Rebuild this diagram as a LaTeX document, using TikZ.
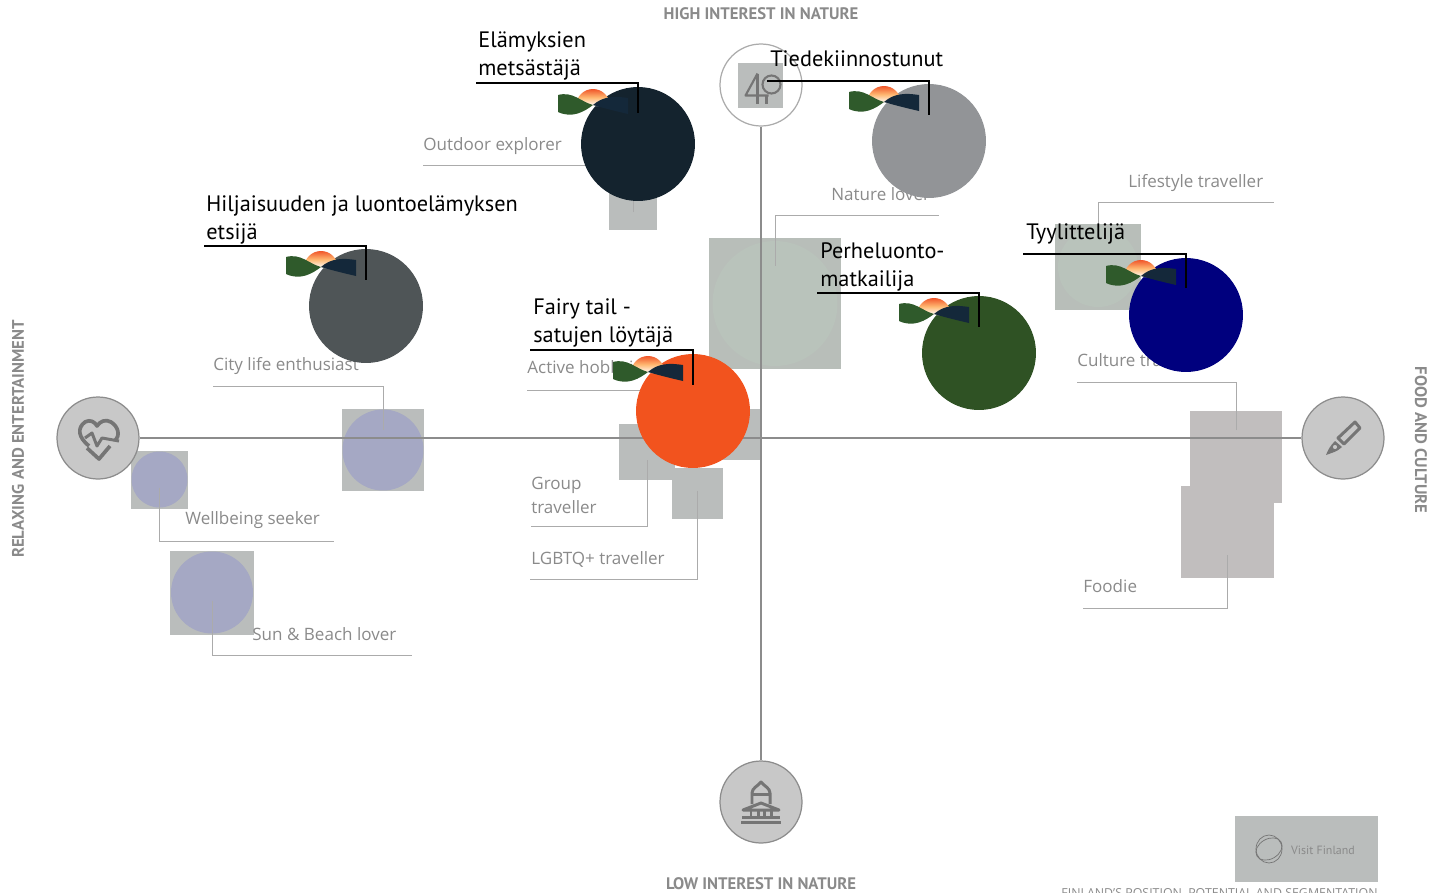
\documentclass[tikz,border=0pt]{standalone}
\usepackage{fontspec}
\setmainfont{PT Sans}
\newfontfamily\greyfont{Open Sans}
\usetikzlibrary{calc}

\definecolor{axisgrey}{HTML}{8C8C8C}
\definecolor{leadgrey}{HTML}{ABABAB}
\definecolor{textgrey}{HTML}{8A8A8A}
\definecolor{icongrey}{HTML}{757575}
\definecolor{dotgrey}{HTML}{C8C8C8}
\definecolor{boxgrey}{HTML}{BABDBC}
\definecolor{warmgrey}{HTML}{C1BEBE}
\definecolor{lilac}{HTML}{A5A8C4}
\definecolor{sage}{HTML}{B9C3BB}
\definecolor{sagebox}{HTML}{B8BEB9}
\definecolor{wavegreen}{HTML}{2F5A2B}
\definecolor{wavenavy}{HTML}{14283A}
\definecolor{sunred}{HTML}{F0562A}
\definecolor{elamysfill}{HTML}{14232E}
\definecolor{tiedefill}{HTML}{929497}
\definecolor{hiljainenfill}{HTML}{4F5557}
\definecolor{satufill}{HTML}{F2531E}
\definecolor{perhefill}{HTML}{2F5224}
\definecolor{tyylifill}{HTML}{00007E}

\tikzset{
    axisdot/.style={circle, draw=axisgrey, line width=0.7pt, fill=dotgrey, minimum size=1.64cm, inner sep=0pt},
    segdot/.style={circle, minimum size=2.28cm, inner sep=0pt, fill=#1},
    softdot/.style={circle, inner sep=0pt, fill=lilac, minimum size=#1},
    sqbox/.style={rectangle, inner sep=0pt, fill=boxgrey, minimum size=#1},
    greylabel/.style={anchor=base west, inner sep=0pt, text=textgrey, font=\greyfont\fontsize{9.7}{13.2}\selectfont, align=left},
    blacklabel/.style={anchor=base west, inner sep=0pt, text=black, font=\fontsize{12.7}{15.9}\selectfont, align=left},
    axislabel/.style={inner sep=0pt, text=textgrey, font=\bfseries\fontsize{9.5}{11}\selectfont},
    leader/.style={draw=leadgrey, line width=0.5pt},
    callout/.style={draw=black, line width=0.75pt},
    iconline/.style={draw=icongrey, line width=1.7pt, line join=round},
    sunmark/.pic={
        \shade[top color=sunred, bottom color=white, middle color=orange!55!white] (-17,1) arc (180:360:17) -- cycle;
        \fill[wavegreen] (-35,-10) .. controls (-20,-14) and (-12,-3) .. (0,0) .. controls (-8,6) and (-20,14) .. (-35,7) -- cycle;
        \fill[wavenavy] (0,0) .. controls (10,-9) and (22,-9) .. (35,-7) -- (35,9) .. controls (22,6) and (10,3) .. (0,0) -- cycle;
    },
}

\begin{document}
\begin{tikzpicture}[x=0.02cm, y=-0.02cm]
        \useasboundingbox (0,0) rectangle (1431,893);

        \node[sqbox=0.96cm] (outdoorsq) at (633,206) {};
        \node[sqbox=2.64cm, fill=sagebox] (naturesq) at (775,303.5) {};
        \node[circle, inner sep=0pt, fill=sage, minimum size=2.5cm] at (naturesq) {};
        \node[sqbox=1.72cm, fill=sagebox] (lifestylesq) at (1098,267) {};
        \node[circle, inner sep=0pt, fill=sage, minimum size=1.6cm] at (lifestylesq) {};
        \node[sqbox=1.64cm] (citysq) at (383,450) {};
        \node[softdot=1.62cm] at (citysq) {};
        \node[sqbox=1.16cm] (wellbeingsq) at (159.5,479.5) {};
        \node[softdot=1.12cm] at (wellbeingsq) {};
        \node[sqbox=1.68cm] (sunsq) at (212,592.5) {};
        \node[softdot=1.64cm] at (sunsq) {};
        \node[sqbox=1.02cm] (activesq) at (735.5,434.5) {};
        \node[sqbox=1.12cm] (groupsq) at (647,452) {};
        \node[sqbox=1.02cm] (lgbtsq) at (697.5,493.5) {};
        \node[sqbox=1.84cm, fill=warmgrey] (culturesq) at (1236,457) {};
        \node[sqbox=1.86cm, fill=warmgrey] (foodiesq) at (1227.5,532) {};

        \node[axisdot] (relaxdot) at (98,438) {};
        \node[axisdot] (culturedot) at (1343,438) {};
        \node[axisdot] (lowdot) at (761,802) {};
        \node[axisdot, fill=white, draw=leadgrey] (highdot) at (761,85) {};
        \node[sqbox=0.9cm] (treesq) at (760.5,85.5) {};
        \draw[axisgrey, line width=1.1pt] (relaxdot) -- (culturedot);
        \draw[axisgrey, line width=1.1pt] (highdot) -- (lowdot);

        \begin{scope}[shift={(relaxdot)}]
            \draw[iconline, line width=2.1pt] (-9,8) .. controls (-20,-1) and (-21,-10) .. (-13,-16) .. controls (-8,-19) and (-3,-16) .. (-1,-12) .. controls (2,-17) and (8,-19) .. (13,-16) .. controls (21,-11) and (22,-2) .. (17,3);
            \draw[iconline] (-13,0) -- (-6,-5) -- (-1,8) -- (4,0) -- (21,3);
            \draw[iconline, line width=2.1pt] (-11,10) -- (1,21) -- (12,8);
        \end{scope}
        \begin{scope}[shift={(culturedot)}]
            \draw[iconline] (-5,0) -- (12,-16) -- (17,-10) -- (1,6) -- cycle;
            \fill[icongrey, even odd rule] (-8,3) -- (-1,9) .. controls (-6,14) and (-12,15) .. (-17,17) .. controls (-15,12) and (-13,8) .. (-8,3) -- cycle (-8,9) circle (2.2);
        \end{scope}
        \begin{scope}[shift={(lowdot)}]
            \draw[iconline] (-20,20) -- (20,20);
            \draw[iconline] (-19,15) -- (19,15);
            \draw[iconline] (-18,8) -- (0,1) -- (18,8) -- cycle;
            \draw[iconline] (-9,2) -- (-9,-9) .. controls (-9,-14) and (-3,-16) .. (0,-20) .. controls (3,-16) and (9,-14) .. (9,-9) -- (9,2);
            \draw[iconline] (-9,-8) -- (9,-8);
            \draw[iconline] (-10,15) -- (-10,9);
            \draw[iconline] (-3,15) -- (-3,9);
            \draw[iconline] (3,15) -- (3,9);
            \draw[iconline] (10,15) -- (10,9);
        \end{scope}
        \begin{scope}[shift={(treesq)}]
            \draw[iconline, line width=1.2pt] (-3,-12) -- (-15,10) -- (8,10);
            \draw[iconline, line width=1.2pt] (-3,-12) -- (-3,18);
            \draw[iconline, line width=1.2pt] (6,10) -- (6,18);
            \draw[iconline, line width=1.2pt] (11,-1) circle (9);
        \end{scope}

        \node[greylabel] (outdoorlab) at (423,150) {Outdoor explorer};
        \node[greylabel] (naturelab) at (831,200) {Nature lover};
        \node[greylabel] (lifestylelab) at (1128,187) {Lifestyle traveller};
        \node[greylabel] (citylab) at (213,370) {City life enthusiast};
        \node[greylabel] (activelab) at (527,373) {Active hobbyist};
        \node[greylabel] (culturelab) at (1077,366) {Culture traveller};
        \node[greylabel] (wellbeinglab) at (185,524) {Wellbeing seeker};
        \node[greylabel] (sunlab) at (252,640) {Sun \& Beach lover};
        \node[greylabel] (grouplab) at (531,513) {Group\\traveller};
        \node[greylabel] (lgbtlab) at (531,564) {LGBTQ+ traveller};
        \node[greylabel] (foodielab) at (1083,592) {Foodie};

        \coordinate (outdoorend) at (423,165);
        \coordinate (natureend) at (939,215);
        \coordinate (lifestyleend) at (1274,202);
        \coordinate (cityend) at (213,386);
        \coordinate (activeend) at (527,390);
        \coordinate (cultureend) at (1077,382);
        \coordinate (wellbeingend) at (334,541);
        \coordinate (sunend) at (412,655);
        \coordinate (groupend) at (531,526);
        \coordinate (lgbtend) at (530,579);
        \coordinate (foodieend) at (1083,608);

        \draw[leader] ($ (outdoorsq) + (0,6) $) |- (outdoorend);
        \draw[leader] ($ (naturesq) + (0,-38) $) |- (natureend);
        \draw[leader] (lifestylesq) |- (lifestyleend);
        \draw[leader] ($ (citysq) + (0,-20) $) |- (cityend);
        \draw[leader] (activesq) |- (activeend);
        \draw[leader] ($ (culturesq) + (0,-27) $) |- (cultureend);
        \draw[leader] ($ (wellbeingsq) + (0,8) $) |- (wellbeingend);
        \draw[leader] ($ (sunsq) + (0,8) $) |- (sunend);
        \draw[leader] ($ (groupsq) + (0,8) $) |- (groupend);
        \draw[leader] ($ (lgbtsq) + (0,-3) $) |- (lgbtend);
        \draw[leader] ($ (foodiesq) + (0,23) $) |- (foodieend);

        \node[segdot=elamysfill] (elamys) at (638,144) {};
        \node[segdot=tiedefill] (tiede) at (929,141) {};
        \node[segdot=hiljainenfill] (hiljainen) at (366,306) {};
        \node[segdot=satufill] (satu) at (693,411) {};
        \node[segdot=perhefill] (perhe) at (979,353) {};
        \node[segdot=tyylifill] (tyyli) at (1186,315) {};

        \coordinate (elamysend) at (476,83);
        \coordinate (tiedeend) at (767,81);
        \coordinate (hiljainenend) at (204,246);
        \coordinate (satuend) at (530,350);
        \coordinate (perheend) at (817,293);
        \coordinate (tyyliend) at (1023,254);

        \pic at ($ (elamys) + (-45,-39) $) {sunmark};
        \pic at ($ (tiede) + (-45,-39) $) {sunmark};
        \pic at ($ (hiljainen) + (-45,-39) $) {sunmark};
        \pic at ($ (satu) + (-45,-39) $) {sunmark};
        \pic at ($ (perhe) + (-45,-39) $) {sunmark};
        \pic at ($ (tyyli) + (-45,-39) $) {sunmark};

        \draw[callout] (elamysend) -| ($ (elamys) + (0,-31) $);
        \draw[callout] (tiedeend) -| ($ (tiede) + (0,-26) $);
        \draw[callout] (hiljainenend) -| ($ (hiljainen) + (0,-26) $);
        \draw[callout] (satuend) -| ($ (satu) + (0,-26) $);
        \draw[callout] (perheend) -| ($ (perhe) + (0,-26) $);
        \draw[callout] (tyyliend) -| ($ (tyyli) + (0,-27) $);

        \node[blacklabel] (elamyslab) at (478,75) {Elämyksien\\metsästäjä};
        \node[blacklabel] (tiedelab) at (770,66) {Tiedekiinnostunut};
        \node[blacklabel] (hiljainenlab) at (206,239) {Hiljaisuuden ja luontoelämyksen\\etsijä};
        \node[blacklabel] (satulab) at (533,342) {Fairy tail -\\satujen löytäjä};
        \node[blacklabel] (perhelab) at (820,286) {Perheluonto-\\matkailija};
        \node[blacklabel] (tyylilab) at (1026,239) {Tyylittelijä};

        \node[axislabel] (highlab) at (761,13.5) {HIGH INTEREST IN NATURE};
        \node[axislabel] (lowlab) at (761,883.5) {LOW INTEREST IN NATURE};
        \node[axislabel, rotate=90] (relaxlab) at (18,439) {RELAXING AND ENTERTAINMENT};
        \node[axislabel, rotate=-90] (foodlab) at (1421,440) {FOOD AND CULTURE};

        \node[rectangle, inner sep=0pt, fill=boxgrey, minimum width=2.86cm, minimum height=1.32cm] (visitsq) at (1306.5,849) {};
        \draw[icongrey, line width=0.4pt] (1269,849) ellipse [x radius=13, y radius=14];
        \draw[icongrey, line width=0.4pt, rotate around={30:(1269,849)}] (1269,849) ellipse [x radius=14, y radius=10];
        \node[inner sep=0pt, text=textgrey, font=\fontsize{6.8}{8}\selectfont] (visitlab) at (1323,850) {Visit Finland};
        \node[anchor=base east, inner sep=0pt, text=textgrey, font=\greyfont\fontsize{7.05}{8}\selectfont] (footlab) at (1378,897) {FINLAND’S POSITION, POTENTIAL AND SEGMENTATION};
    \end{tikzpicture}
\end{document}
